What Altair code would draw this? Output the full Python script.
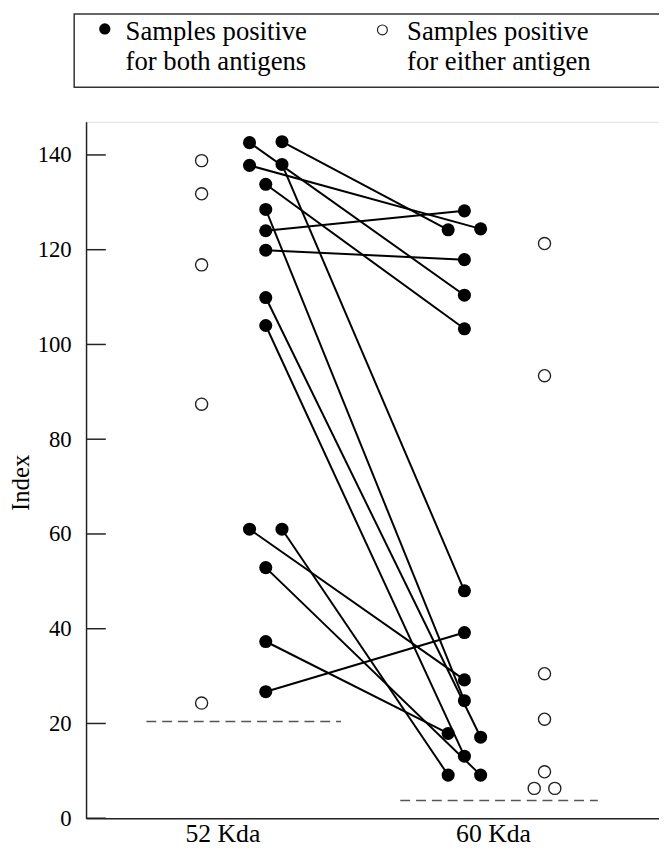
import altair as alt
import pandas as pd

# ---------------- data ----------------
categories = ["52 Kda", "60 Kda"]

# samples positive for both antigens: pair i joins both_52[i] with both_60[i]
both_52 = [142.6, 142.8, 137.8, 138.0, 133.8, 128.5, 124.0, 119.9, 109.9, 104.0, 61.0, 61.0, 52.9, 37.3, 26.7]
both_60 = [110.4, 124.2, 124.4, 48.0, 103.3, 24.8, 128.2, 117.9, 17.1, 13.1, 29.2, 9.1, 9.1, 17.9, 39.2]
# side-by-side jitter slot of each marker (-1 left, 0 middle, +1 right)
slot_52 = [-1, 1, -1, 1, 0, 0, 0, 0, 0, 0, -1, 1, 0, 0, 0]
slot_60 = [0, -1, 1, 0, 0, 0, 0, 0, 1, 0, 0, -1, 1, -1, 0]

# samples positive for either antigen
either_52 = [138.8, 131.8, 116.8, 87.4, 24.3]
either_60 = [121.3, 93.4, 30.5, 20.9, 9.8, 6.3, 6.3]
either_slot_52 = [0, 0, 0, 0, 0]
either_slot_60 = [0, 0, 0, 0, 0, -1, 1]

# cut-off lines
cutoffs = [20.4, 3.75]

y_ticks = [0, 20, 40, 60, 80, 100, 120, 140]
legend_labels = [["Samples positive", "for both antigens"],
                 ["Samples positive", "for either antigen"]]

# ---------------- layout ----------------
cat_pos = {"52 Kda": 0.0, "60 Kda": 1.0}
both_base = {"52 Kda": 0.12, "60 Kda": -0.146}
either_base = {"52 Kda": -0.117, "60 Kda": 0.15}
both_step = 0.06
either_step = 0.038
cutoff_span = {"52 Kda": (-0.321, 0.398), "60 Kda": (-0.383, 0.347)}

FONT = "Liberation Serif"
FS_TICK = 23
FS_CAT = 26
FS_TITLE = 25
FS_LEG = 27
W, H = 580, 705
XDOM = [-0.544, 1.573]
YDOM = [0, 147]

# ---------------- tables ----------------
rows = []
for i, (a, b) in enumerate(zip(both_52, both_60)):
    rows.append({"pair": i, "x": cat_pos["52 Kda"] + both_base["52 Kda"] + slot_52[i] * both_step, "value": a})
    rows.append({"pair": i, "x": cat_pos["60 Kda"] + both_base["60 Kda"] + slot_60[i] * both_step, "value": b})
both_df = pd.DataFrame(rows)

erows = []
for v, s in zip(either_52, either_slot_52):
    erows.append({"x": cat_pos["52 Kda"] + either_base["52 Kda"] + s * either_step, "value": v})
for v, s in zip(either_60, either_slot_60):
    erows.append({"x": cat_pos["60 Kda"] + either_base["60 Kda"] + s * either_step, "value": v})
either_df = pd.DataFrame(erows)

cut_df = pd.DataFrame({
    "x": [cat_pos[c] + cutoff_span[c][0] for c in categories],
    "x2": [cat_pos[c] + cutoff_span[c][1] for c in categories],
    "value": cutoffs,
})
tick_df = pd.DataFrame({"value": y_ticks})
one = pd.DataFrame({"k": [0]})

xs = alt.Scale(domain=XDOM, nice=False, zero=False)
ys = alt.Scale(domain=YDOM, nice=False, zero=False)

x_axis = alt.Axis(values=[0, 1], labelExpr="datum.value == 0 ? '52 Kda' : '60 Kda'",
                  title=None, ticks=False, grid=False, labelPadding=3, labelOffset=-11,
                  labelFont=FONT, labelFontSize=FS_CAT, labelColor="#000",
                  domainColor="#222", domainWidth=1.5)
y_axis = alt.Axis(values=y_ticks, title="Index", ticks=False, grid=False,
                  labelPadding=15, labelFont=FONT, labelFontSize=FS_TICK, labelColor="#000",
                  titleFont=FONT, titleFontSize=FS_TITLE, titleFontWeight="normal", titleColor="#000",
                  titleX=-66, titleY=365, titleBaseline="middle", titleAlign="center",
                  domainColor="#222", domainWidth=1.5)

base_x = alt.X("x:Q", scale=xs, axis=x_axis)
base_y = alt.Y("value:Q", scale=ys, axis=y_axis)

cut_layer = alt.Chart(cut_df).mark_rule(color="#555", strokeWidth=1.6, strokeDash=[10, 6]).encode(
    x=base_x, x2="x2:Q", y=base_y)

tick_layer = alt.Chart(tick_df).mark_rule(color="#222", strokeWidth=1.5).encode(
    x=alt.value(0), x2=alt.value(20), y=alt.Y("value:Q", scale=ys, axis=y_axis))

line_layer = alt.Chart(both_df).mark_line(color="black", strokeWidth=2).encode(
    x=base_x, y=base_y, detail="pair:N", order="x:Q")

both_pts = alt.Chart(both_df).mark_point(filled=True, color="black", size=175, opacity=1, shape="circle").encode(
    x=base_x, y=base_y)

either_pts = alt.Chart(either_df).mark_point(filled=False, color="#222", fill="white", fillOpacity=1,
                                             strokeWidth=1.4, size=150, opacity=1, shape="circle").encode(
    x=base_x, y=base_y)

# legend box
legend_box = alt.Chart(one).mark_rect(fill="white", fillOpacity=0, stroke="#333", strokeWidth=1.5).encode(
    x=alt.value(-12), x2=alt.value(600), y=alt.value(-109), y2=alt.value(-35))
leg_dot = alt.Chart(one).mark_point(filled=True, color="black", size=130, opacity=1).encode(
    x=alt.value(19), y=alt.value(-94))
leg_ring = alt.Chart(one).mark_point(filled=False, color="#222", strokeWidth=1.2, size=100, opacity=1).encode(
    x=alt.value(300), y=alt.value(-93))

def leg_text(xpos, lines):
    layers = []
    for j, t in enumerate(lines):
        layers.append(alt.Chart(one).mark_text(align="left", baseline="middle", font=FONT,
                                               fontSize=FS_LEG, color="#000").encode(
            x=alt.value(xpos), y=alt.value(-91 + j * 31), text=alt.value(t)))
    return layers

legend_layers = [legend_box, leg_dot, leg_ring] + leg_text(40, legend_labels[0]) + leg_text(325, legend_labels[1])

chart = alt.layer(cut_layer, tick_layer, line_layer, either_pts, both_pts, *legend_layers).properties(
    width=W, height=H,
    autosize=alt.AutoSizeParams(type="none"),
    padding={"left": 79, "top": 110, "right": 0, "bottom": 28},
).configure_view(stroke=None).configure(background="white")

chart.save("out.html", embed_options={"renderer": "svg", "actions": False})
